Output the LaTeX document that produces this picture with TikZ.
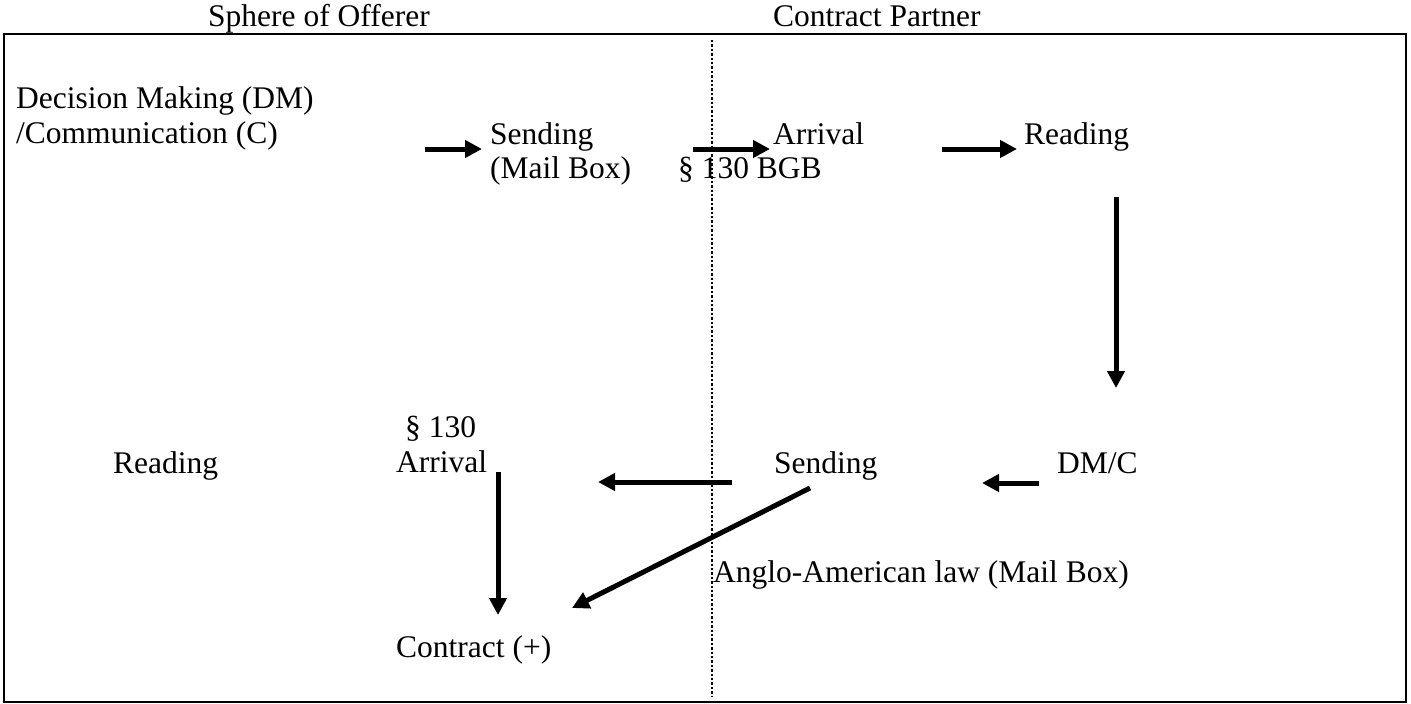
\documentclass[tikz,border=0pt]{standalone}
\usepackage{fontspec}
\setmainfont{Liberation Serif}
\usetikzlibrary{arrows.meta}
\begin{document}
\begin{tikzpicture}[x=1pt, y=-1pt,
    lbl/.style={anchor=base west, inner sep=0pt, align=left,
      font=\fontsize{31.5}{34}\selectfont},
    flow/.style={line width=5pt, -{Triangle[length=17pt,width=17pt]}}]
  \useasboundingbox (0,0) rectangle (1411,704);
  % frame and the two spheres
  \draw[line width=2pt] (4,34) rectangle (1406,702);
  \draw[line width=2.4pt, dash pattern=on 2.4pt off 2pt] (712,40) -- (712,697);
  \node[lbl] (offerer) at (208,27) {Sphere of Offerer};
  \node[lbl] (partner) at (773,27) {Contract Partner};
  % offer: upper row (base = last line)
  \node[lbl] (dm) at (16,143) {Decision Making (DM)\\[1pt]/Communication (C)};
  \node[lbl] (send) at (490,178) {Sending\\(Mail Box)};
  \node[lbl] (arr) at (773,144) {Arrival};
  \node[lbl] (bgb) at (678,178) {\S\ 130 BGB};
  \node[lbl] (read) at (1024,144) {Reading};
  % acceptance: lower row
  \node[lbl] (dmc) at (1057,473) {DM/C};
  \node[lbl] (sendb) at (774,473) {Sending};
  \node[lbl] (par) at (405,437) {\S\ 130};
  \node[lbl] (arrb) at (396,472) {Arrival};
  \node[lbl] (readb) at (113,473) {Reading};
  \node[lbl] (contract) at (396,657) {Contract (+)};
  \node[lbl] (mailbox) at (713,582) {Anglo-American law (Mail Box)};
  % arrow end points
  \coordinate (a1) at (425,149);  \coordinate (b1) at (482,149);
  \coordinate (a2) at (693,149);  \coordinate (b2) at (770,149);
  \coordinate (a3) at (942,149);  \coordinate (b3) at (1017,149);
  \coordinate (a4) at (1116,197); \coordinate (b4) at (1116,388);
  \coordinate (a5) at (1039,483); \coordinate (b5) at (982,483);
  \coordinate (a6) at (732,482);  \coordinate (b6) at (598,482);
  \coordinate (a7) at (810,488);  \coordinate (b7) at (572,608);
  \coordinate (a8) at (498,472);  \coordinate (b8) at (498,615);
  \foreach \i in {1,...,8}
    \draw[flow] (a\i) -- (b\i);
\end{tikzpicture}
\end{document}
